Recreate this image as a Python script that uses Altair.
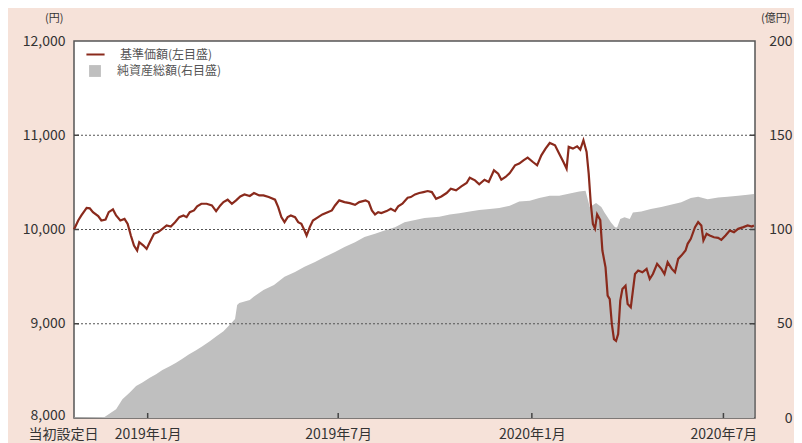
import altair as alt
import pandas as pd

NAV_LABEL = "基準価額(左目盛)"
ASSET_LABEL = "純資産総額(右目盛)"

nav_dates = [
    "2018-10-23", "2018-10-27", "2018-10-30", "2018-11-04", "2018-11-07", "2018-11-10", "2018-11-15",
    "2018-11-18", "2018-11-22", "2018-11-25", "2018-11-29", "2018-12-02", "2018-12-06", "2018-12-10",
    "2018-12-13", "2018-12-16", "2018-12-19", "2018-12-22", "2018-12-24", "2018-12-28", "2018-12-31",
    "2019-01-03", "2019-01-07", "2019-01-11", "2019-01-15", "2019-01-19", "2019-01-23", "2019-01-27",
    "2019-01-31", "2019-02-04", "2019-02-07", "2019-02-10", "2019-02-14", "2019-02-17", "2019-02-21",
    "2019-02-26", "2019-03-03", "2019-03-07", "2019-03-11", "2019-03-14", "2019-03-18", "2019-03-22",
    "2019-03-26", "2019-03-30", "2019-04-03", "2019-04-08", "2019-04-12", "2019-04-17", "2019-04-21",
    "2019-04-26", "2019-05-02", "2019-05-05", "2019-05-08", "2019-05-11", "2019-05-14", "2019-05-17",
    "2019-05-21", "2019-05-24", "2019-05-27", "2019-05-30", "2019-06-01", "2019-06-04", "2019-06-07",
    "2019-06-12", "2019-06-16", "2019-06-21", "2019-06-25", "2019-06-28", "2019-07-02", "2019-07-07",
    "2019-07-12", "2019-07-17", "2019-07-21", "2019-07-27", "2019-07-30", "2019-08-02", "2019-08-05",
    "2019-08-08", "2019-08-11", "2019-08-16", "2019-08-20", "2019-08-24", "2019-08-27", "2019-08-31",
    "2019-09-05", "2019-09-08", "2019-09-12", "2019-09-16", "2019-09-20", "2019-09-24", "2019-09-28",
    "2019-10-02", "2019-10-07", "2019-10-12", "2019-10-16", "2019-10-21", "2019-10-26", "2019-10-31",
    "2019-11-03", "2019-11-08", "2019-11-12", "2019-11-17", "2019-11-21", "2019-11-26", "2019-11-30",
    "2019-12-03", "2019-12-07", "2019-12-11", "2019-12-16", "2019-12-20", "2019-12-24", "2019-12-28",
    "2020-01-02", "2020-01-06", "2020-01-10", "2020-01-14", "2020-01-18", "2020-01-23", "2020-01-27",
    "2020-01-31", "2020-02-03", "2020-02-05", "2020-02-09", "2020-02-13", "2020-02-16", "2020-02-19",
    "2020-02-22", "2020-02-24", "2020-02-26", "2020-02-28", "2020-03-01", "2020-03-03", "2020-03-06",
    "2020-03-08", "2020-03-11", "2020-03-13", "2020-03-15", "2020-03-17", "2020-03-19", "2020-03-21",
    "2020-03-23", "2020-03-25", "2020-03-27", "2020-03-30", "2020-04-01", "2020-04-04", "2020-04-06",
    "2020-04-08", "2020-04-11", "2020-04-15", "2020-04-19", "2020-04-22", "2020-04-25", "2020-04-29",
    "2020-05-03", "2020-05-06", "2020-05-09", "2020-05-13", "2020-05-16", "2020-05-19", "2020-05-22",
    "2020-05-26", "2020-05-28", "2020-05-31", "2020-06-04", "2020-06-07", "2020-06-10", "2020-06-12",
    "2020-06-15", "2020-06-18", "2020-06-22", "2020-06-26", "2020-06-29", "2020-07-03", "2020-07-07",
    "2020-07-11", "2020-07-15", "2020-07-20", "2020-07-24", "2020-07-28", "2020-07-30",
]
nav_values = [
    10000, 10096, 10149, 10230, 10225, 10184, 10142,
    10096, 10106, 10184, 10213, 10149, 10096, 10113,
    10060, 9936, 9830, 9777, 9865, 9830, 9794,
    9865, 9954, 9972, 10007, 10043, 10032, 10078,
    10131, 10149, 10131, 10184, 10202, 10245, 10273,
    10273, 10255, 10195, 10255, 10291, 10316, 10273,
    10309, 10351, 10372, 10356, 10387, 10362, 10362,
    10344, 10316, 10238, 10131, 10078, 10131, 10149,
    10131, 10078, 10060, 9989, 9936, 10025, 10096,
    10131, 10160, 10184, 10202, 10255, 10309, 10291,
    10280, 10262, 10291, 10309, 10291, 10202, 10160,
    10184, 10174, 10195, 10220, 10195, 10245, 10273,
    10337, 10344, 10372, 10387, 10397, 10408, 10397,
    10326, 10351, 10387, 10433, 10415, 10457, 10493,
    10550, 10521, 10479, 10528, 10504, 10628, 10592,
    10528, 10557, 10599, 10681, 10699, 10734, 10762,
    10716, 10681, 10787, 10858, 10918, 10893, 10805,
    10716, 10645, 10876, 10858, 10883, 10848, 10947,
    10823, 10592, 10273, 10060, 10010, 10160, 10100,
    9777, 9599, 9298, 9262, 8996, 8837, 8819,
    8890, 9245, 9369, 9404, 9209, 9174, 9351,
    9528, 9564, 9546, 9582, 9475, 9528, 9635,
    9582, 9528, 9652, 9582, 9546, 9688, 9723,
    9777, 9848, 9901, 10025, 10078, 10043, 9883,
    9954, 9936, 9918, 9911, 9890, 9936, 9989,
    9972, 10007, 10025, 10043, 10032, 10043,
]

asset_dates = [
    "2018-10-23", "2018-11-21", "2018-12-02", "2018-12-08", "2018-12-15", "2018-12-21", "2018-12-27",
    "2019-01-03", "2019-01-09", "2019-01-15", "2019-01-22", "2019-01-28", "2019-02-03", "2019-02-09",
    "2019-02-16", "2019-02-22", "2019-03-01", "2019-03-07", "2019-03-14", "2019-03-20", "2019-03-25",
    "2019-03-27", "2019-03-29", "2019-04-08", "2019-04-12", "2019-04-21", "2019-05-01", "2019-05-11",
    "2019-05-21", "2019-05-30", "2019-06-09", "2019-06-18", "2019-06-28", "2019-07-07", "2019-07-17",
    "2019-07-26", "2019-08-05", "2019-08-14", "2019-08-24", "2019-09-02", "2019-09-12", "2019-09-21",
    "2019-10-05", "2019-10-15", "2019-10-24", "2019-11-03", "2019-11-12", "2019-11-22", "2019-12-01",
    "2019-12-11", "2019-12-20", "2019-12-30", "2020-01-08", "2020-01-18", "2020-01-27", "2020-02-06",
    "2020-02-15", "2020-02-21", "2020-02-25", "2020-03-02", "2020-03-07", "2020-03-10", "2020-03-13",
    "2020-03-16", "2020-03-20", "2020-03-22", "2020-03-25", "2020-03-29", "2020-04-03", "2020-04-06",
    "2020-04-14", "2020-04-23", "2020-05-03", "2020-05-13", "2020-05-22", "2020-05-31", "2020-06-07",
    "2020-06-16", "2020-06-26", "2020-07-05", "2020-07-15", "2020-07-24", "2020-07-30",
]
asset_values = [
    0.3, 0.5, 4.7, 10, 13.5, 17, 18.8,
    21.4, 23.2, 25.4, 27.5, 29.3, 31.4, 33.7,
    36, 38, 40.7, 43.3, 46, 49.5, 52.5,
    60, 61, 62.6, 64.4, 67.9, 70.5, 74.9,
    77.5, 80.2, 82.8, 85.4, 88, 90.7, 93.3,
    96, 97.7, 99.5, 101.2, 103.9, 105.1, 106.1,
    106.8, 107.9, 108.6, 109.6, 110.4, 110.9, 111.4,
    112.6, 114.9, 115.3, 116.7, 117.9, 117.9, 119.1,
    120.2, 120.5, 112, 114, 112, 109, 106.5,
    103.9, 101.2, 101, 105.6, 106.5, 105.6, 109,
    109.6, 110.9, 112, 113.2, 114.4, 116.7, 117.4,
    116.1, 117, 117.4, 117.9, 118.4, 118.8,
]

x_tick_dates = ["2019-01-01", "2019-07-01", "2020-01-01", "2020-07-01"]
left_ticks = [8000, 9000, 10000, 11000, 12000]
right_ticks = [0, 50, 100, 150, 200]
grid_values = [9000, 10000, 11000]

FONT = "Noto Sans CJK JP"
LINE_COLOR = "#8a2a1c"
AREA_COLOR = "#bfbfbf"
TEXT = "#333333"
W, H = 681, 377

nav_df = pd.DataFrame({"date": nav_dates, "nav": nav_values, "s": NAV_LABEL})
asset_df = pd.DataFrame({"date": asset_dates, "assets": asset_values, "s": ASSET_LABEL})
grid_df = pd.DataFrame({"nav": grid_values})
xtick_df = pd.DataFrame({"date": x_tick_dates})

def dt(y, m, d):
    return alt.DateTime(year=y, month=m, date=d, utc=True)

SETUP_TEST = "datum.value < 1546000000000"

x_axis = alt.Axis(
    values=[dt(2018, 10, 23), dt(2019, 1, 1), dt(2019, 7, 1), dt(2020, 1, 1), dt(2020, 7, 1)],
    labelExpr=SETUP_TEST + " ? '当初設定日' : utcFormat(datum.value, '%Y年%-m月')",
    title=None, grid=False, domain=False, ticks=False, tickSize=0,
    labelFontSize=14, labelFont=FONT, labelColor=TEXT, labelPadding=9.5,
    labelBaseline="top", labelOverlap=False, labelFlush=False,
    labelOffset={"condition": {"test": SETUP_TEST, "value": -11}, "value": 0},
)
X = alt.X("date:T", scale=alt.Scale(type="utc", domain=[dt(2018, 10, 23), dt(2020, 7, 31)]), axis=x_axis)

left_scale = alt.Scale(domain=[8000, 12000], nice=False, zero=False)
right_scale = alt.Scale(domain=[0, 200], nice=False)

left_axis = alt.Axis(
    orient="left", values=left_ticks, labelExpr="format(datum.value, ',')",
    grid=False, domain=False, ticks=False, tickSize=0,
    labelFontSize=14, labelFont=FONT, labelColor=TEXT, labelPadding=9,
    labelOffset={"condition": {"test": "datum.value == 8000", "value": -3}, "value": 0},
    title="(円)", titleAngle=0, titleAlign="right", titleBaseline="middle", titleX=-11, titleY=-23,
    titleFontSize=11, titleFontWeight="normal", titleFont=FONT, titleColor=TEXT,
)
right_axis = alt.Axis(
    orient="right", values=right_ticks, grid=False, domain=False, ticks=False, tickSize=0,
    labelFontSize=14, labelFont=FONT, labelColor=TEXT, labelPadding=37, labelAlign="right",
    title="(億円)", titleAngle=0, titleAlign="right", titleBaseline="middle", titleX=35, titleY=-23,
    titleFontSize=11, titleFontWeight="normal", titleFont=FONT, titleColor=TEXT,
)

area = alt.Chart(asset_df).mark_area(interpolate="linear").encode(
    x=X,
    y=alt.Y("assets:Q", scale=right_scale, axis=right_axis),
    fill=alt.Fill("s:N", scale=alt.Scale(domain=[ASSET_LABEL], range=[AREA_COLOR]),
                  legend=alt.Legend(orient="none", legendX=15, legendY=24, title=None,
                                    symbolType="square", symbolSize=140, symbolStrokeWidth=0,
                                    labelFontSize=12, labelFont=FONT, labelColor="#555555",
                                    labelOffset=16, padding=0)),
)

YL = alt.Y("nav:Q", scale=left_scale, axis=left_axis)

grid = alt.Chart(grid_df).mark_rule(color="#555555", strokeDash=[2, 2], strokeWidth=1).encode(y=YL)

line = alt.Chart(nav_df).mark_line(strokeWidth=2.2, interpolate="linear").encode(
    x=X,
    y=YL,
    stroke=alt.Stroke("s:N", scale=alt.Scale(domain=[NAV_LABEL], range=[LINE_COLOR]),
                      legend=alt.Legend(orient="none", legendX=11, legendY=3, title=None,
                                        symbolType="stroke", symbolSize=330, symbolStrokeWidth=2,
                                        labelFontSize=12, labelFont=FONT, labelColor="#555555",
                                        labelOffset=14, padding=0)),
)

ytick_l = alt.Chart(grid_df).mark_rule(color="#444444", strokeWidth=1.5).encode(
    y=YL, x=alt.value(0), x2=alt.value(5))
ytick_r = alt.Chart(grid_df).mark_rule(color="#444444", strokeWidth=1.5).encode(
    y=YL, x=alt.value(W - 5), x2=alt.value(W))
xtick = alt.Chart(xtick_df).mark_rule(color="#444444", strokeWidth=1.5).encode(
    x=X, y=alt.value(H - 5), y2=alt.value(H))

inner = alt.layer(grid, line, ytick_l, ytick_r, xtick)

chart = alt.layer(area, inner).resolve_scale(y="independent").properties(
    width=W, height=H,
    padding={"left": 66, "top": 33, "right": 39, "bottom": 25},
    autosize=alt.AutoSizeParams(type="none"),
).configure(
    background="#f6e2d9",
    font=FONT,
).configure_view(
    fill="white", stroke="#555555", strokeWidth=1.5,
)

chart.save("out.html", embed_options={"renderer": "svg", "actions": False})
